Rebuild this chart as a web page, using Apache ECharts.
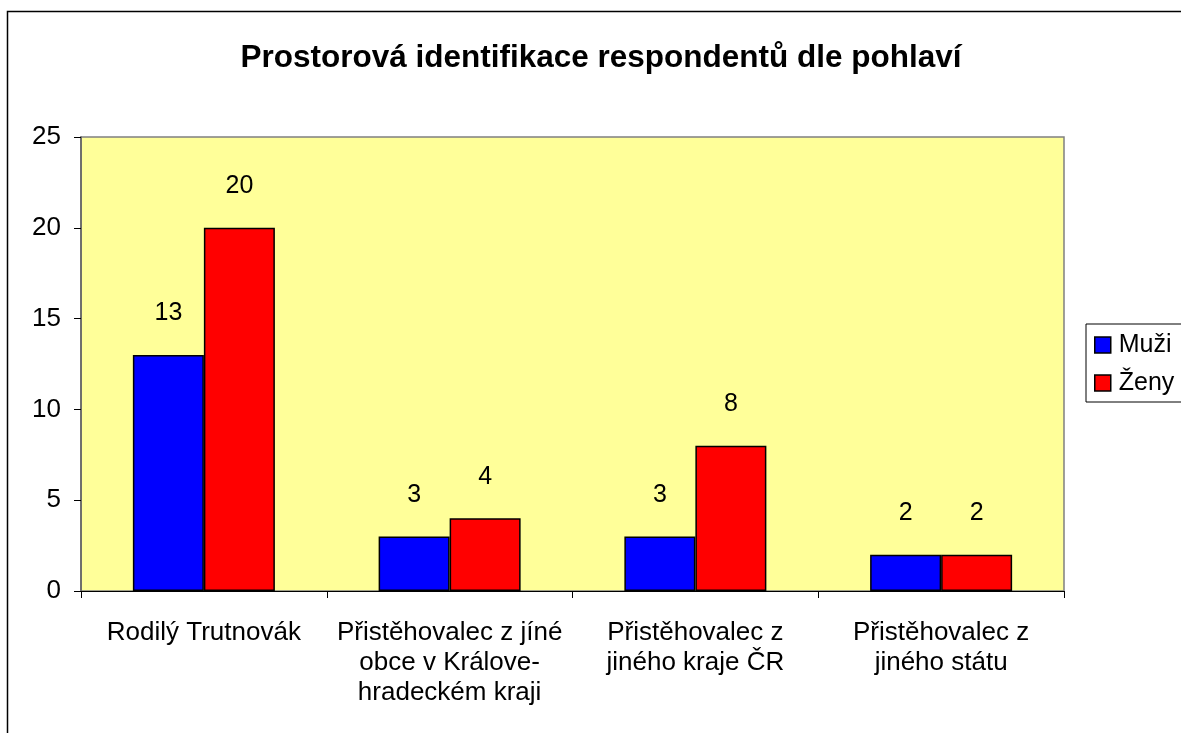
<!DOCTYPE html>
<html>
<head>
<meta charset="utf-8">
<script src="https://cdn.jsdelivr.net/npm/echarts@6/dist/echarts.min.js"></script>
<style>
  html, body { margin: 0; padding: 0; background: #fff; }
  #chart { width: 1181px; height: 733px; }
</style>
</head>
<body>
<div id="chart"></div>
<script>
// data
const categories = [
  'Rodilý Trutnovák',
  'Přistěhovalec z jíné\nobce v Králove-\nhradeckém kraji',
  'Přistěhovalec z\njiného kraje ČR',
  'Přistěhovalec z\njiného státu'
]
const muzi = [13, 3, 3, 2]
const zeny = [20, 4, 8, 2]

const font = 'Liberation Sans, Arial, sans-serif'

const chart = echarts.init(document.getElementById('chart'))
chart.setOption({
  animation: false,
  textStyle: { fontFamily: font },
  title: {
    text: 'Prostorová identifikace respondentů dle pohlaví',
    left: 596,
    top: 37,
    textAlign: 'center',
    textStyle: { fontSize: 31.5, fontWeight: 'bold', color: '#000', fontFamily: font }
  },
  graphic: [
    {
      type: 'rect',
      shape: { x: 7.5, y: 11.5, width: 1300, height: 900 },
      style: { fill: 'none', stroke: '#000', lineWidth: 1.5 },
      z: 0
    }
  ],
  legend: {
    orient: 'vertical',
    left: 1086,
    top: 324,
    itemWidth: 16,
    itemHeight: 16,
    itemGap: 10,
    padding: [7, 40, 5, 8],
    borderColor: '#000',
    borderWidth: 1,
    icon: 'rect',
    itemStyle: { borderColor: '#000', borderWidth: 1.5 },
    textStyle: { fontSize: 25, lineHeight: 28, color: '#000', padding: [0, 0, 0, 3] },
    data: ['Muži', 'Ženy']
  },
  grid: {
    left: 81,
    right: 117,
    top: 137,
    bottom: 142,
    show: true,
    backgroundColor: '#FFFF99',
    borderColor: '#808080',
    borderWidth: 1.5
  },
  xAxis: {
    type: 'category',
    data: categories,
    axisLine: { lineStyle: { color: '#000', width: 1 } },
    axisTick: { show: true, length: 7, lineStyle: { color: '#000' } },
    axisLabel: { color: '#000', fontSize: 26, lineHeight: 30, margin: 27, interval: 0 }
  },
  yAxis: {
    type: 'value',
    min: 0,
    max: 25,
    interval: 5,
    splitLine: { show: false },
    axisLine: { show: true, lineStyle: { color: '#606060', width: 1.5 } },
    axisTick: { show: true, length: 7, lineStyle: { color: '#000' } },
    axisLabel: { color: '#000', fontSize: 26, margin: 20 }
  },
  series: [
    {
      name: 'Muži',
      type: 'bar',
      data: muzi,
      barWidth: 71,
      barGap: '0%',
      itemStyle: { color: '#0000FF', borderColor: '#000', borderWidth: 1.5 },
      label: { show: true, position: 'top', distance: 29, fontSize: 25, color: '#000' }
    },
    {
      name: 'Ženy',
      type: 'bar',
      data: zeny,
      barWidth: 71,
      itemStyle: { color: '#FF0000', borderColor: '#000', borderWidth: 1.5 },
      label: { show: true, position: 'top', distance: 29, fontSize: 25, color: '#000' }
    }
  ]
})
window.addEventListener('resize', function () {
  chart && chart.resize()
})
</script>
</body>
</html>
